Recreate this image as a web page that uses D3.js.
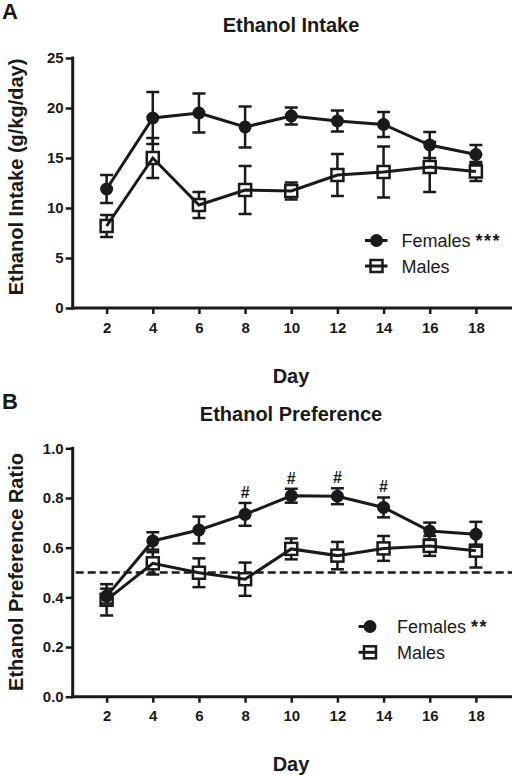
<!DOCTYPE html>
<html>
<head>
<meta charset="utf-8">
<script src="https://cdn.jsdelivr.net/npm/d3@7"></script>
<style>
  html, body { margin: 0; padding: 0; background: #fff; }
  svg { display: block; font-family: Arial, "Liberation Sans", Helvetica, sans-serif; }
</style>
</head>
<body>
<svg id="chart" width="512" height="776"></svg>
<script>
// ---------- data ----------
const days = [2, 4, 6, 8, 10, 12, 14, 16, 18];
const xTicks = [2, 4, 6, 8, 10, 12, 14, 16, 18];

const intakeFemales    = [11.9, 19.0, 19.5, 18.1, 19.2, 18.7, 18.35, 16.3, 15.35];
const intakeFemalesErr = [1.4, 2.6, 1.95, 2.05, 0.85, 1.05, 1.25, 1.3, 0.95];
const intakeMales      = [8.2, 15.0, 10.3, 11.8, 11.7, 13.3, 13.6, 14.1, 13.65];
const intakeMalesErr   = [1.1, 2.0, 1.3, 2.4, 0.85, 2.1, 2.55, 2.5, 0.95];
const intakeTicks = [0, 5, 10, 15, 20, 25];

const prefFemales    = [0.405, 0.627, 0.671, 0.734, 0.809, 0.807, 0.762, 0.667, 0.654];
const prefFemalesErr = [0.03, 0.035, 0.054, 0.046, 0.028, 0.032, 0.04, 0.034, 0.05];
const prefMales      = [0.39, 0.537, 0.499, 0.473, 0.595, 0.568, 0.597, 0.607, 0.588];
const prefMalesErr   = [0.063, 0.045, 0.058, 0.067, 0.042, 0.055, 0.05, 0.04, 0.068];
const prefTicks = [0.0, 0.2, 0.4, 0.6, 0.8, 1.0];
const prefSigDays = [8, 10, 12, 14];
const prefChance = 0.5;

// ---------- drawing ----------
const INK = "#1a1a1a";
const svg = d3.select("#chart");
const x = d3.scaleLinear().domain([0.53, 19.5]).range([72.7, 510.5]);

function panel(opts) {
  const g = svg.append("g");
  const y = d3.scaleLinear().domain(opts.yDomain).range([opts.y0, opts.y1]);

  // panel letter
  g.append("text").attr("x", 2).attr("y", opts.letterY)
    .attr("font-size", 22).attr("font-weight", "bold").attr("fill", INK).text(opts.letter);
  // title
  g.append("text").attr("x", 291).attr("y", opts.titleY).attr("text-anchor", "middle")
    .attr("font-size", 20).attr("font-weight", "bold").attr("fill", INK).text(opts.title);

  // y axis
  const yAxis = d3.axisLeft(y).tickValues(opts.yTicks).tickFormat(opts.yFormat)
    .tickSize(7).tickPadding(2).tickSizeOuter(0);
  const ya = g.append("g").attr("transform", `translate(${x.range()[0]},0)`).call(yAxis);
  ya.select(".domain").attr("stroke", INK).attr("stroke-width", 3)
    .attr("d", `M0,${opts.y1 - 1.5}V${opts.y0 + 1.5}`);
  ya.selectAll(".tick line").attr("stroke", INK).attr("stroke-width", 2.5);
  ya.selectAll(".tick text").attr("fill", INK).attr("font-size", 15).attr("font-weight", "bold")
    .attr("font-family", "Arial, 'Liberation Sans', sans-serif");

  // x axis
  const xAxis = d3.axisBottom(x).tickValues(xTicks).tickSize(6).tickPadding(8).tickSizeOuter(0);
  const xa = g.append("g").attr("transform", `translate(0,${opts.y0})`).call(xAxis);
  xa.select(".domain").attr("stroke", INK).attr("stroke-width", 3)
    .attr("d", `M${x.range()[0] - 1.5},0H512`);
  xa.selectAll(".tick line").attr("stroke", INK).attr("stroke-width", 2.5);
  xa.selectAll(".tick text").attr("fill", INK).attr("font-size", 15).attr("font-weight", "bold")
    .attr("font-family", "Arial, 'Liberation Sans', sans-serif");

  // axis labels
  g.append("text").attr("x", 291).attr("y", opts.dayY).attr("text-anchor", "middle")
    .attr("font-size", 20).attr("font-weight", "bold").attr("fill", INK).text("Day");
  g.append("text").attr("transform", `translate(${opts.yLabelX},${opts.yLabelY}) rotate(-90)`)
    .attr("text-anchor", "middle").attr("font-size", 20).attr("font-weight", "bold")
    .attr("fill", INK).text(opts.yLabel);

  // reference line
  if (opts.refLine != null) {
    g.append("line").attr("x1", x.range()[0] + 3).attr("x2", 512)
      .attr("y1", y(opts.refLine)).attr("y2", y(opts.refLine))
      .attr("stroke", INK).attr("stroke-width", 2.5).attr("stroke-dasharray", "8,4");
  }

  const cap = 6.5;
  function errorBars(vals, errs) {
    const eg = g.append("g").attr("stroke", INK).attr("stroke-width", 2.5).attr("fill", "none");
    days.forEach((d, i) => {
      const cx = x(d), lo = y(vals[i] - errs[i]), hi = y(vals[i] + errs[i]);
      eg.append("line").attr("x1", cx).attr("x2", cx).attr("y1", lo).attr("y2", hi);
      eg.append("line").attr("x1", cx - cap).attr("x2", cx + cap).attr("y1", lo).attr("y2", lo);
      eg.append("line").attr("x1", cx - cap).attr("x2", cx + cap).attr("y1", hi).attr("y2", hi);
    });
  }
  const line = d3.line().x((d, i) => x(days[i])).y(d => y(d));

  // males
  errorBars(opts.males, opts.malesErr);
  g.append("g").selectAll("rect").data(opts.males).join("rect")
    .attr("x", (d, i) => x(days[i]) - 6).attr("y", d => y(d) - 6)
    .attr("width", 12).attr("height", 12)
    .attr("fill", "#fff").attr("stroke", INK).attr("stroke-width", 2.5);
  g.append("path").datum(opts.males).attr("d", line)
    .attr("fill", "none").attr("stroke", INK).attr("stroke-width", 3);

  // females
  errorBars(opts.females, opts.femalesErr);
  g.append("path").datum(opts.females).attr("d", line)
    .attr("fill", "none").attr("stroke", INK).attr("stroke-width", 3);
  g.append("g").selectAll("circle").data(opts.females).join("circle")
    .attr("cx", (d, i) => x(days[i])).attr("cy", d => y(d)).attr("r", 6.5).attr("fill", INK);

  // significance marks
  if (opts.sigDays) {
    opts.sigDays.forEach(sd => {
      const i = days.indexOf(sd);
      g.append("text").attr("x", x(sd)).attr("y", y(opts.females[i] + opts.femalesErr[i]) - 5)
        .attr("text-anchor", "middle").attr("font-size", 16).attr("font-weight", "bold")
        .attr("fill", INK).text("#");
    });
  }

  // legend
  const L = opts.legend;
  const lf = g.append("g");
  lf.append("line").attr("x1", L.mx - 11.5).attr("x2", L.fRight).attr("y1", L.fy).attr("y2", L.fy)
    .attr("stroke", INK).attr("stroke-width", 3);
  lf.append("circle").attr("cx", L.mx).attr("cy", L.fy).attr("r", 6.5).attr("fill", INK);
  const ft = lf.append("text").attr("x", L.tx).attr("y", L.fy + 6.5).attr("font-size", 18).attr("fill", INK);
  ft.append("tspan").text("Females ");
  ft.append("tspan").attr("font-weight", "bold").attr("letter-spacing", 1.5).text(L.stars);

  const lm = g.append("g");
  lm.append("rect").attr("x", L.mx - 6).attr("y", L.my - 6).attr("width", 12).attr("height", 12)
    .attr("fill", "#fff").attr("stroke", INK).attr("stroke-width", 2.5);
  lm.append("line").attr("x1", L.mx - 11.5).attr("x2", L.mRight).attr("y1", L.my).attr("y2", L.my)
    .attr("stroke", INK).attr("stroke-width", 3);
  lm.append("text").attr("x", L.tx).attr("y", L.my + 6.5).attr("font-size", 18).attr("fill", INK).text("Males");
}

panel({
  letter: "A", letterY: 19, title: "Ethanol Intake", titleY: 32,
  yDomain: [0, 25], y0: 308, y1: 58, yTicks: intakeTicks, yFormat: d3.format("d"),
  yLabel: "Ethanol Intake (g/kg/day)", yLabelX: 23, yLabelY: 177, dayY: 383,
  females: intakeFemales, femalesErr: intakeFemalesErr,
  males: intakeMales, malesErr: intakeMalesErr,
  legend: { mx: 376.5, fy: 240.5, my: 266, tx: 401.5, fRight: 387.5, mRight: 387.5, stars: "***" }
});

panel({
  letter: "B", letterY: 409, title: "Ethanol Preference", titleY: 421,
  yDomain: [0, 1], y0: 696.7, y1: 448.3, yTicks: prefTicks, yFormat: d3.format(".1f"),
  yLabel: "Ethanol Preference Ratio", yLabelX: 23, yLabelY: 572, dayY: 771,
  refLine: prefChance, sigDays: prefSigDays,
  females: prefFemales, femalesErr: prefFemalesErr,
  males: prefMales, malesErr: prefMalesErr,
  legend: { mx: 370, fy: 626.5, my: 652.3, tx: 397, fRight: 370, mRight: 376, stars: "**" }
});
</script>
</body>
</html>
